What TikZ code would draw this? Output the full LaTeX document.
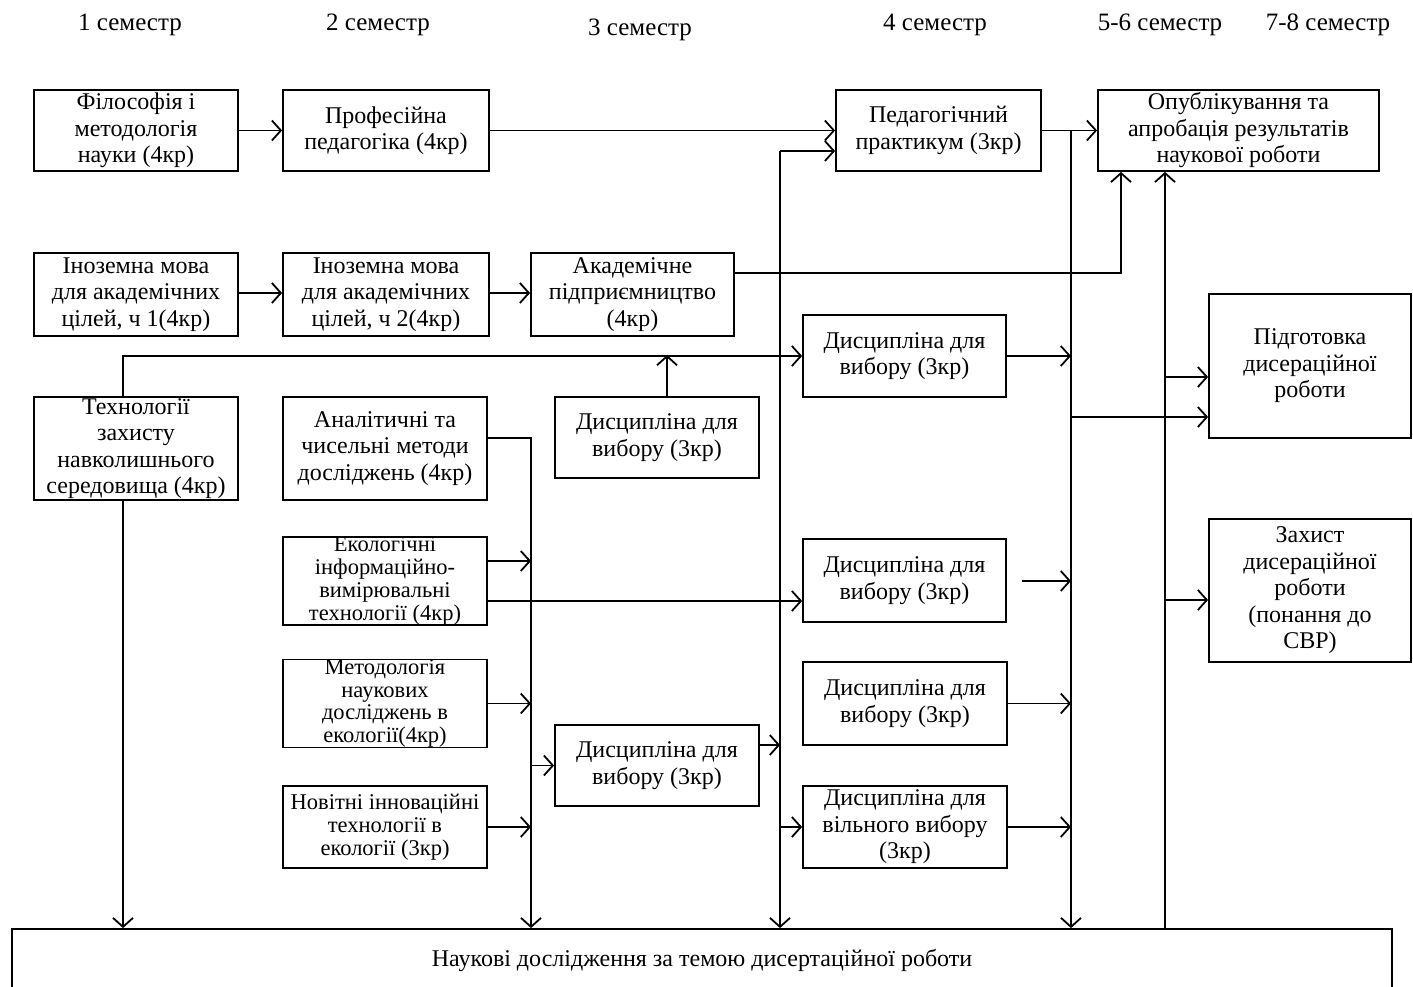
\documentclass[tikz,border=0pt]{standalone}
\usepackage{fontspec}
\setmainfont{Liberation Serif}
\usetikzlibrary{arrows.meta,calc}
\begin{document}
\begin{tikzpicture}[x=1pt,y=-1pt,
  box/.style={draw,line width=1.8pt,inner sep=0pt,align=center,
    font=\fontsize{24}{26.5}\selectfont},
  smallbox/.style={box,font=\fontsize{22.5}{22.8}\selectfont},
  hdr/.style={font=\fontsize{25}{28}\selectfont,inner sep=0pt},
  arr/.style={line width=1.8pt,-{Straight Barb[length=9pt,width=20pt,line width=1.8pt]}},
  ln/.style={line width=1.8pt}]
\useasboundingbox (0,0) rectangle (1413,987);
\clip (0,0) rectangle (1413,987);
% headers
\node[hdr] (h1) at (130,25) {1 семестр};
\node[hdr] (h2) at (378,25) {2 семестр};
\node[hdr] (h3) at (640,30) {3 семестр};
\node[hdr] (h4) at (935,25) {4 семестр};
\node[hdr] (h5) at (1160,25) {5-6 семестр};
\node[hdr] (h6) at (1328,25) {7-8 семестр};
% boxes
\node[box,minimum width=204pt,minimum height=81pt] (phil) at (136,130.5) {Філософія і\\методологія\\науки (4кр)};
\node[box,minimum width=206pt,minimum height=81pt] (prof) at (386,130.5) {Професійна\\педагогіка (4кр)};
\node[box,minimum width=204pt,minimum height=83pt] (lang1) at (136,294.5) {Іноземна мова\\для академічних\\цілей, ч 1(4кр)};
\node[box,minimum width=206pt,minimum height=83pt] (lang2) at (386,294.5) {Іноземна мова\\для академічних\\цілей, ч 2(4кр)};
\node[box,minimum width=203pt,minimum height=83pt] (acad) at (632.5,294.5) {Академічне\\підприємництво\\(4кр)};
\node[box,minimum width=205pt,minimum height=81pt] (ped) at (938.5,130.5) {Педагогічний\\практикум (3кр)};
\node[box,minimum width=281pt,minimum height=81pt] (pub) at (1238.5,130.5) {Опублікування та\\апробація результатів\\наукової роботи};
\node[box,minimum width=202pt,minimum height=144pt] (prep) at (1310,366) {Підготовка\\дисераційної\\роботи};
\node[box,minimum width=202pt,minimum height=143pt] (def) at (1310,590.5) {Захист\\дисераційної\\роботи\\ (понання до\\СВР)};
\node[box,minimum width=204pt,minimum height=103pt] (tech) at (136,448.5) {Технології\\захисту\\навколишнього\\середовища (4кр)};
\node[box,minimum width=204pt,minimum height=103pt] (anal) at (385,448.5) {Аналітичні та\\чисельні методи\\досліджень (4кр)};
\node[smallbox,minimum width=204pt,minimum height=84pt] (eco) at (385,581) {Екологічні\\інформаційно-\\вимірювальні\\технології (4кр)};
\node[box,minimum width=204pt,minimum height=81pt] (d3a) at (657,437.5) {Дисципліна для\\вибору (3кр)};
\node[box,minimum width=203pt,minimum height=82pt] (d4a) at (904.5,356) {Дисципліна для\\вибору (3кр)};
\node[box,minimum width=203pt,minimum height=83pt] (d4b) at (904.5,580.5) {Дисципліна для\\вибору (3кр)};
\node[smallbox,minimum width=204pt,minimum height=83pt] (meth) at (385,703.5) {Методологія\\наукових\\досліджень в\\екології(4кр)};
\node[smallbox,minimum width=204pt,minimum height=82pt] (novi) at (385,827) {Новітні інноваційні\\технології в\\екології (3кр)};
\node[box,minimum width=204pt,minimum height=81pt] (d3b) at (657,765.5) {Дисципліна для\\вибору (3кр)};
\node[box,minimum width=204pt,minimum height=83pt] (d4c) at (905,703.5) {Дисципліна для\\вибору (3кр)};
\node[box,minimum width=204pt,minimum height=82pt] (d4d) at (905,827) {Дисципліна для\\вільного вибору\\(3кр)};
\node[box,minimum width=1380pt,minimum height=62pt] (bot) at (702,960) {Наукові дослідження за темою дисертаційної роботи};
% coordinates of buses
\coordinate (cTop) at (780,151);
\coordinate (dTop) at (1071,131);
\coordinate (techTop) at (123,355);
% connectors
\draw[arr] (phil.east) -- (prof.west);
\draw[arr] (prof.east) -- (ped.west);
\draw[arr] (ped.east) -- (pub.west);
\draw[arr] (lang1.east |- 0,293) -- (lang2.west |- 0,293);
\draw[arr] (lang2.east |- 0,293) -- (acad.west |- 0,293);
\draw[arr] (acad.east |- 0,273) -| (1121,0 |- pub.south);
\draw[arr] (123,0 |- tech.north) |- (d4a.west);
\draw[arr] (667,0 |- d3a.north) -- (667,0 |- techTop);
\draw[arr] (123,0 |- tech.south) -- (123,0 |- bot.north);
\draw[arr] (anal.east |- 0,438) -| (531,0 |- bot.north);
\draw[arr] (eco.east |- 0,561) -- (531,561);
\draw[arr] (eco.east |- 0,601) -- (d4b.west |- 0,601);
\draw[arr] (meth.east) -- (531,0 |- meth.east);
\draw[arr] (novi.east) -- (531,0 |- novi.east);
\draw[arr] (531,0 |- d3b.west) -- (d3b.west);
\draw[arr] (cTop) -- (ped.west |- cTop);
\draw[arr] (cTop) -- (cTop |- bot.north);
\draw[arr] (d3b.east |- 0,745) -- (780,745);
\draw[arr] (780,0 |- d4d.west) -- (d4d.west);
\draw[arr] (dTop) -- (dTop |- bot.north);
\draw[arr] (d4a.east) -- (1071,0 |- d4a.east);
\draw[arr] (1022,581) -- (1071,581);
\draw[arr] (d4c.east) -- (1071,0 |- d4c.east);
\draw[arr] (d4d.east) -- (1071,0 |- d4d.east);
\draw[arr] (1071,417) -- (prep.west |- 0,417);
\draw[arr] (1165,0 |- bot.north) -- (1165,0 |- pub.south);
\draw[arr] (1165,377) -- (prep.west |- 0,377);
\draw[arr] (1165,600) -- (def.west |- 0,600);
\end{tikzpicture}
\end{document}
